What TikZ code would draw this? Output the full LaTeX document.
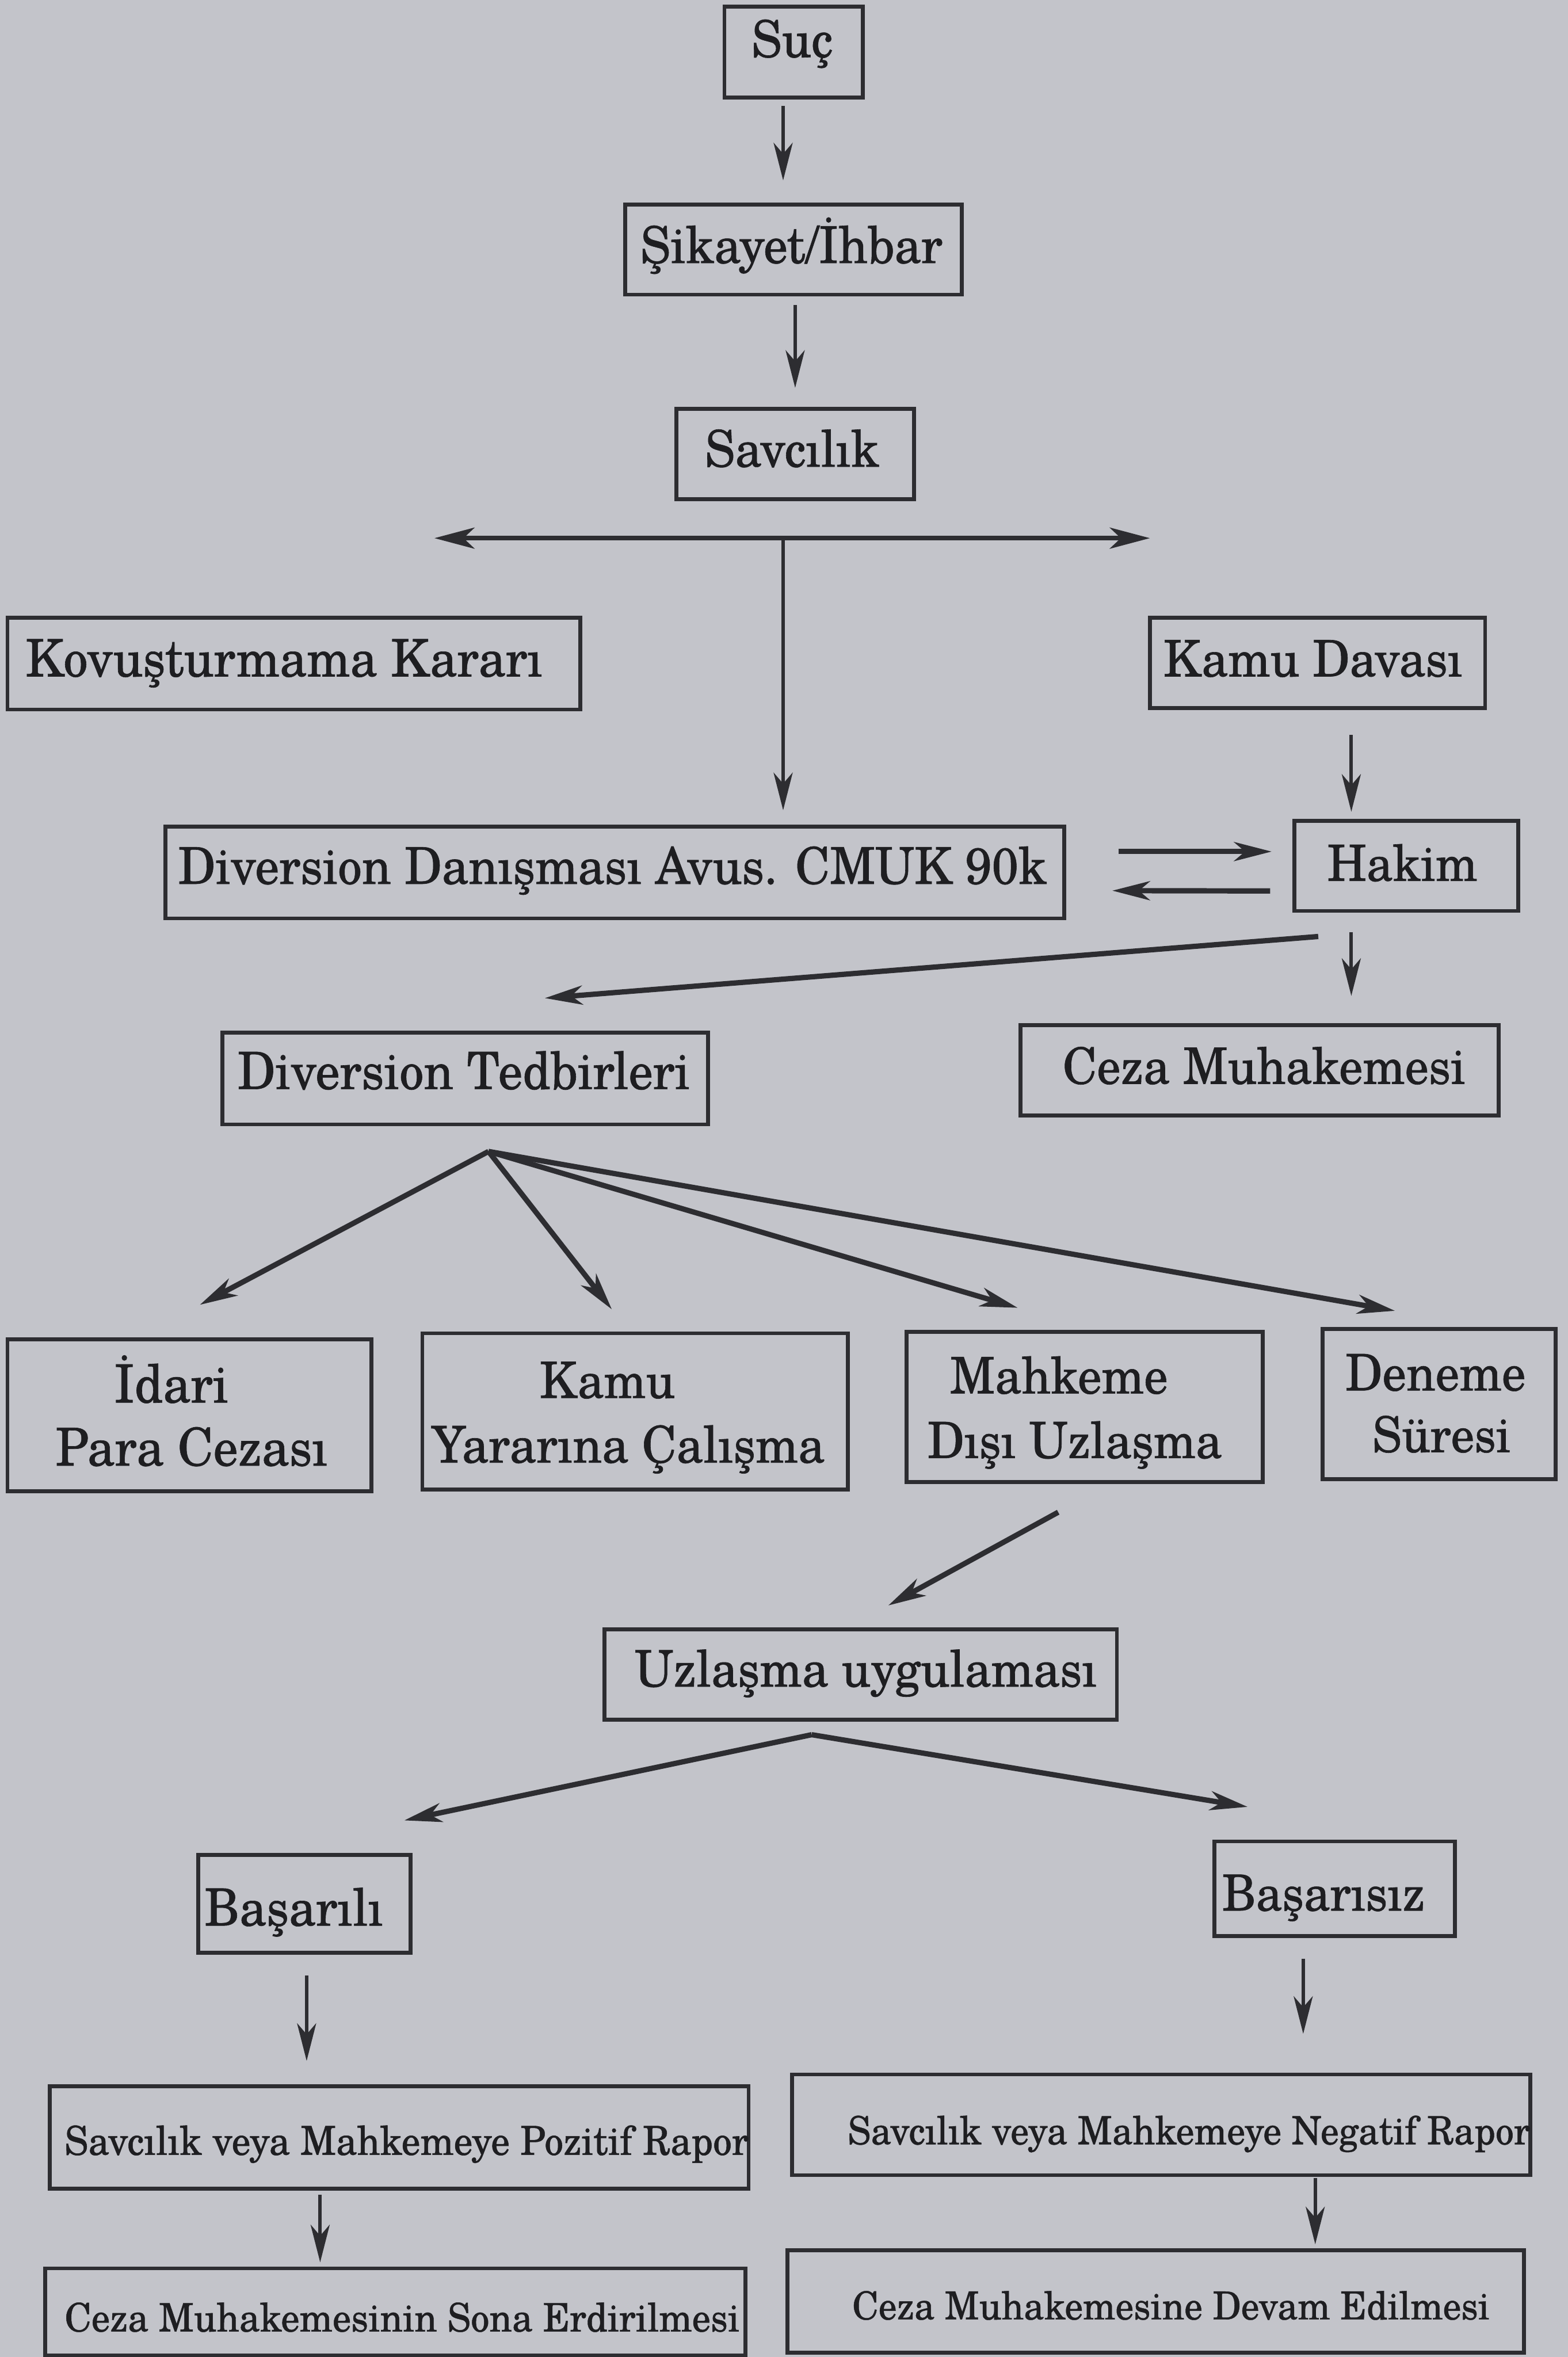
\documentclass[tikz,border=0pt]{standalone}
\usepackage{fontspec}
\setmainfont[FakeBold=0.7]{TeX Gyre Schola}
\usepackage{graphicx}
\usetikzlibrary{arrows.meta,calc}
\newlength\ulen \setlength\ulen{0.3mm}
\newcommand\tline[4]{\makebox[0pt]{\raisebox{#2\ulen}[0pt][0pt]{\hspace*{#1\ulen}\scalebox{1}[1.06]{\resizebox{#3\ulen}{!}{#4}}}}}
\definecolor{paper}{RGB}{195,196,202}
\definecolor{ink}{RGB}{45,45,49}
\definecolor{txt}{RGB}{30,30,33}
\begin{document}
\begin{tikzpicture}[x=0.3mm,y=-0.3mm,
  box/.style={draw=ink,line width=2.2pt,inner sep=0pt,outer sep=0pt,rectangle,text=txt},
  bx/.style n args={2}{box,minimum width=#1*0.3mm,minimum height=#2*0.3mm},
  arr/.style={-{Stealth[length=7.5mm,width=3.8mm,inset=2.2mm]},draw=ink,line width=2pt},
  tarr/.style={arr,line width=3pt},
  dbl/.style={{Stealth[length=8mm,width=4.2mm,inset=2.2mm]}-{Stealth[length=8mm,width=4.2mm,inset=2.2mm]},draw=ink,line width=2.6pt}]
\fill[paper] (0,0) rectangle (1043,1568);
\useasboundingbox (0,0) rectangle (1043,1568);

\node[bx={92}{60.6}] (suc) at (528,34.7) {\tline{-2}{-3.3}{54}{Suç}};
\node[bx={224}{60}] (sik) at (528,166) {\tline{-3}{-9}{201}{Şikayet/İhbar}};
\node[bx={158}{60}] (sav) at (529,302) {\tline{-4}{-8.5}{116}{Savcılık}};
\node[bx={381}{61}] (kov) at (195.5,441.5) {\tline{-13}{-8.5}{344}{Kovuşturmama Kararı}};
\node[bx={223}{60}] (kam) at (876.5,441) {\tline{-6}{-9}{199}{Kamu Davası}};
\node[bx={598}{61}] (dan) at (409,580.5) {\tline{-3}{-7.5}{578}{Diversion Danışması Avus. CMUK 90k}};
\node[bx={149}{60}] (hak) at (935.5,576) {\tline{-5}{-10}{100}{Hakim}};
\node[bx={323}{61}] (ted) at (309.5,717.5) {\tline{-2}{-7}{301}{Diversion Tedbirleri}};
\node[bx={318}{60}] (cez) at (838,712) {\tline{6}{-9}{268}{Ceza Muhakemesi}};
\node[bx={242}{101}] (ida) at (126,941.5) {\tline{-24}{8.5}{76}{İdari}\tline{3}{-33.5}{181}{Para Cezası}};
\node[bx={283}{104}] (kyc) at (422.5,939) {\tline{-37}{9}{90}{Kamu}\tline{-9}{-34}{261.5}{Yararına Çalışma}};
\node[bx={237}{100}] (mdu) at (721.5,936) {\tline{-34}{9}{145}{Mahkeme}\tline{-13}{-34}{196}{Dışı Uzlaşma}};
\node[bx={155}{100}] (den) at (957.5,934) {\tline{-5}{9}{120}{Deneme}\tline{3}{-32}{92}{Süresi}};
\node[bx={341}{60}] (uzl) at (572.5,1114) {\tline{7}{-8}{307.5}{Uzlaşma uygulaması}};
\node[bx={141}{65}] (bas) at (202.5,1266.5) {\tline{-14}{-14.5}{119}{Başarılı}};
\node[bx={160}{63}] (bsz) at (888,1256.5) {\tline{-15}{-14.5}{135}{Başarısız}};
\node[bx={465}{68}] (poz) at (265.5,1422) {\tline{10}{-11.5}{455}{Savcılık veya Mahkemeye Pozitif Rapor}};
\node[bx={491}{67}] (neg) at (772.5,1413.5) {\tline{37}{-13}{454}{Savcılık veya Mahkemeye Negatif Rapor}};
\node[bx={466}{58}] (son) at (263,1538) {\tline{9}{-13}{449}{Ceza Muhakemesinin Sona Erdirilmesi}};
\node[bx={490}{68}] (dev) at (769,1531) {\tline{20}{-12}{424}{Ceza Muhakemesine Devam Edilmesi}};

% junctions and free ends
\coordinate (j) at ($(sav.south)+(-8,26)$);
\coordinate (jl) at (289,358);
\coordinate (jr) at (765,358);
\coordinate (fan) at ($(ted.south)+(15.5,18)$);
\coordinate (spl) at ($(uzl.south)+(-32.5,10)$);

\draw[arr] ($(suc.south)+(-7,5.5)$) -- ($(sik.north)+(-7,-16)$);
\draw[arr] ($(sik.south)+(1,7)$) -- ($(sav.north)+(0,-14)$);
\draw[dbl] (jl) -- (jr);
\draw[arr] (j) -- ($(dan.north)+(112,-11)$);
\draw[arr] ($(kam.south)+(22.5,18)$) -- ($(hak.north)+(-36.5,-6)$);
\draw[tarr] ($(dan.east)+(36,-14)$) -- ($(hak.west)+(-15,-9.5)$);
\draw[tarr] ($(hak.west)+(-16,16.7)$) -- ($(dan.east)+(32,12)$);
\draw[tarr] ($(hak.south)+(-58.5,17)$) -- ($(ted.north)+(53,-23)$);
\draw[arr] ($(hak.south)+(-36.5,14)$) -- ($(cez.north)+(61,-19.5)$);
\draw[tarr] (fan) -- ($(ida.north)+(7,-23)$);
\draw[tarr] (fan) -- ($(kyc.north)+(-15.5,-16)$);
\draw[tarr] (fan) -- ($(mdu.north)+(-44.5,-16)$);
\draw[tarr] (fan) -- ($(den.north)+(-29.5,-12)$);
\draw[tarr] ($(mdu.south)+(-17.5,20)$) -- ($(uzl.north)+(18.5,-16)$);
\draw[tarr] (spl) -- ($(bas.north)+(66.5,-23)$);
\draw[tarr] (spl) -- ($(bsz.north)+(-58,-23)$);
\draw[arr] ($(bas.south)+(1.5,15)$) -- ($(poz.north)+(-61.5,-17)$);
\draw[arr] ($(bsz.south)+(-21,15)$) -- ($(neg.north)+(94.5,-27)$);
\draw[arr] ($(poz.south)+(-52.5,4)$) -- ($(son.north)+(-50,-4)$);
\draw[arr] ($(neg.south)+(102.5,2)$) -- ($(dev.north)+(106,-4)$);
\end{tikzpicture}
\end{document}
